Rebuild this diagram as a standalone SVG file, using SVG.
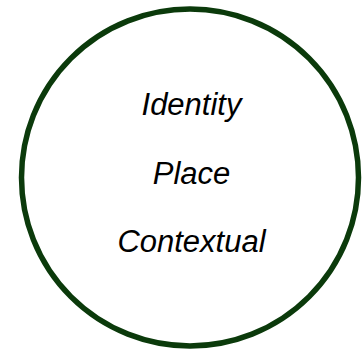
<svg xmlns="http://www.w3.org/2000/svg" width="364" height="354" viewBox="0 0 364 354">
<style>
.lbl{font-family:"Liberation Sans",Arial,sans-serif;font-style:italic;font-size:31px;fill:#000;text-anchor:middle}
</style>
<rect width="364" height="354" fill="#fff"/>
<g id="circle">
<circle cx="190" cy="177.5" r="168.5" fill="#fff" stroke="#0b3a0b" stroke-width="5.5"/>
<text class="lbl" x="191.5" y="115">Identity</text>
<text class="lbl" x="191.5" y="183.5">Place</text>
<text class="lbl" x="191.5" y="251.5">Contextual</text>
</g>
<g id="connectors"></g>
</svg>
